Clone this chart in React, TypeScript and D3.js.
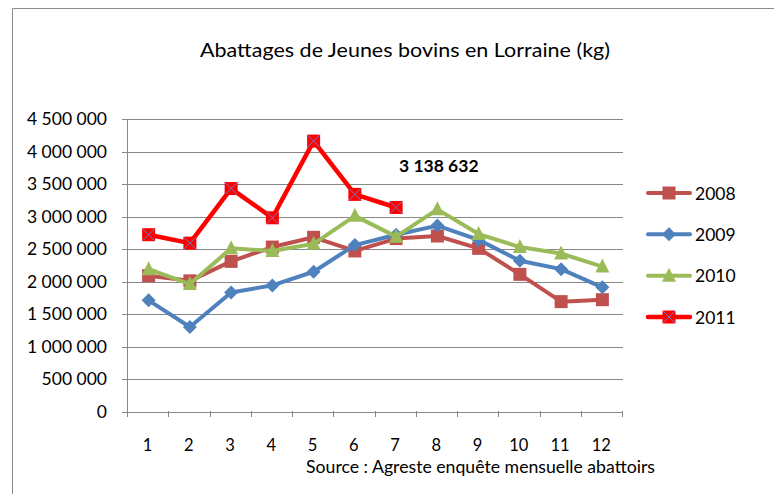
import React from 'react'
import * as d3 from 'd3'

// months on the x axis
const months = ['1', '2', '3', '4', '5', '6', '7', '8', '9', '10', '11', '12']
const years = ['2008', '2009', '2010', '2011']

// kg slaughtered per month
const v2008 = [2090000, 2010000, 2310000, 2530000, 2680000, 2470000, 2660000, 2700000, 2510000, 2110000, 1690000, 1720000]
const v2009 = [1710000, 1300000, 1830000, 1940000, 2150000, 2560000, 2720000, 2860000, 2640000, 2320000, 2190000, 1910000]
const v2010 = [2190000, 1960000, 2510000, 2470000, 2580000, 3010000, 2690000, 3110000, 2730000, 2530000, 2430000, 2230000]
const v2011 = [2720000, 2590000, 3430000, 2980000, 4160000, 3340000, 3138632]

const yTicks = [0, 500000, 1000000, 1500000, 2000000, 2500000, 3000000, 3500000, 4000000, 4500000]

const colors = ['#C0504D', '#4F81BD', '#9BBB59', '#FF0000']
const markerTypes = ['square', 'diamond', 'triangle', 'cross']

const W = 774
const H = 494
const font = 'Lato, "Open Sans", sans-serif'

function Marker({ type, color, x, y }: { type: string; color: string; x: number; y: number }) {
  if (type === 'square') {
    return <rect x={x - 6.5} y={y - 6.5} width={13} height={13} fill={color} />
  }
  if (type === 'diamond') {
    const s = 7
    return <polygon points={`${x},${y - s} ${x + s},${y} ${x},${y + s} ${x - s},${y}`} fill={color} />
  }
  if (type === 'triangle') {
    const s = 7
    return <polygon points={`${x},${y - s - 1} ${x + s},${y + s - 1} ${x - s},${y + s - 1}`} fill={color} />
  }
  // 2011: red square with a blue cross
  return (
    <g>
      <rect x={x - 6.5} y={y - 6.5} width={13} height={13} fill={color} />
      <path d={`M${x - 6},${y - 6}L${x + 6},${y + 6}M${x + 6},${y - 6}L${x - 6},${y + 6}`} stroke="#7777CC" strokeWidth={1} />
    </g>
  )
}

export default function App() {
  const series = [v2008, v2009, v2010, v2011]

  const x = d3.scaleBand<string>().domain(months).range([128, 623])
  const y = d3.scaleLinear().domain([0, 4500000]).range([411.5, 119])
  const fmt = (v: number) => d3.format(',')(v).replace(/,/g, ' ')
  const cx = (i: number) => x(months[i])! + x.bandwidth() / 2

  const line = d3
    .line<number>()
    .x((_d, i) => cx(i))
    .y(d => y(d))

  const edges = d3.range(months.length + 1).map(i => 128 + i * x.bandwidth())
  const legendY = d3.scalePoint<string>().domain(years).range([193, 317])

  return (
    <svg width={W} height={H} style={{ position: 'absolute', left: 0, top: 0, fontFamily: font }}>
      <rect width={W} height={H} fill="#fff" />
      <path d={`M12.5,${H + 2}V8.5H${W + 2}`} fill="none" stroke="#8c8c8c" />

      <text x={405} y={57} textAnchor="middle" fontSize={19} fill="#000" textLength={410} lengthAdjust="spacingAndGlyphs">
        Abattages  de Jeunes bovins en Lorraine (kg)
      </text>

      {/* gridlines + y labels */}
      {yTicks.map(t => (
        <g key={t}>
          <line x1={122} x2={623} y1={Math.round(y(t)) + 0.5} y2={Math.round(y(t)) + 0.5} stroke="#878787" />
          <text x={107} y={y(t) + 6} textAnchor="end" fontSize={17.5} fill="#000">
            {fmt(t)}
          </text>
        </g>
      ))}

      {/* axes */}
      <line x1={127.5} x2={127.5} y1={119} y2={416} stroke="#878787" />
      {edges.map((e, i) => (
        <line key={i} x1={Math.round(e) - 0.5} x2={Math.round(e) - 0.5} y1={411} y2={417} stroke="#878787" />
      ))}
      {months.map((m, i) => (
        <text key={m} x={cx(i) - 1} y={451} textAnchor="middle" fontSize={16.5} fill="#000">
          {m}
        </text>
      ))}

      {/* series */}
      {series.map((vals, s) => (
        <g key={years[s]}>
          <path d={line(vals)!} fill="none" stroke={colors[s]} strokeWidth={s === 3 ? 4.5 : 4} strokeLinejoin="round" />
          {vals.map((v, i) => (
            <Marker key={i} type={markerTypes[s]} color={colors[s]} x={cx(i)} y={y(v)} />
          ))}
        </g>
      ))}

      <text x={399} y={172} fontSize={17.5} fontWeight="bold" fill="#000">
        {fmt(v2011[6])}
      </text>

      {/* legend */}
      {years.map((yr, s) => {
        const ly = legendY(yr)!
        return (
          <g key={yr}>
            <line x1={648} x2={690} y1={ly} y2={ly} stroke={colors[s]} strokeWidth={s === 3 ? 4.5 : 4} strokeLinecap="round" />
            <Marker type={markerTypes[s]} color={colors[s]} x={669} y={ly} />
            <text x={695} y={ly + 6.5} fontSize={17.5} fill="#000">
              {yr}
            </text>
          </g>
        )
      })}

      <text x={306} y={473} fontSize={16.5} fill="#000" textLength={349} lengthAdjust="spacingAndGlyphs">
        Source : Agreste  enquête mensuelle abattoirs
      </text>
    </svg>
  )
}
